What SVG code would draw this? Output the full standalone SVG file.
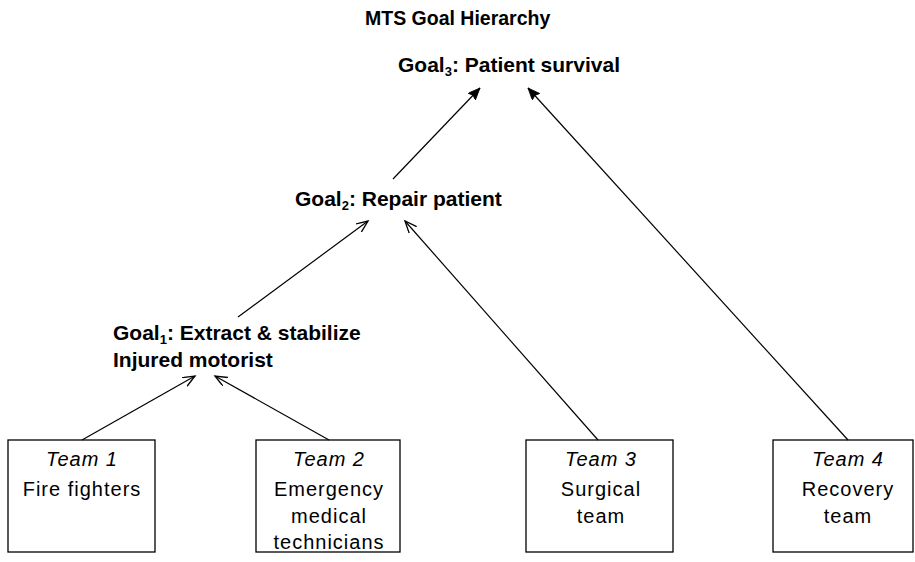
<svg xmlns="http://www.w3.org/2000/svg" width="915" height="562" viewBox="0 0 915 562">
<style>
.bg{fill:#fff}
.box{fill:#fff;stroke:#000;stroke-width:1.3}
.head{font-family:"Liberation Sans",Arial,sans-serif;font-weight:bold;font-size:21px;fill:#000}
.title{font-family:"Liberation Sans",Arial,sans-serif;font-weight:bold;font-size:19.5px;fill:#000}
.sub{font-size:13px}
.team{font-family:"Liberation Sans",Arial,sans-serif;font-size:20px;letter-spacing:1px;fill:#000;text-anchor:middle}
.it{font-style:italic}
.conn line{stroke:#000;stroke-width:1.2;fill:none}
</style>
<defs>
<marker id="open" markerUnits="userSpaceOnUse" markerWidth="16" markerHeight="12" refX="12" refY="5" orient="auto" viewBox="0 0 16 12">
<path d="M0,0 L12,5 L0,10" fill="none" stroke="#000" stroke-width="1.3"/>
</marker>
<marker id="solid" markerUnits="userSpaceOnUse" markerWidth="14" markerHeight="12" refX="12" refY="5" orient="auto" viewBox="0 0 14 12">
<path d="M0,0 L12,5 L0,10 L2,5 Z" fill="#000" stroke="#000" stroke-width="0.8"/>
</marker>
</defs>
<rect class="bg" x="0" y="0" width="915" height="562"/>
<text class="title" x="365" y="25">MTS Goal Hierarchy</text>
<g id="goal3"><text class="head" x="398" y="72">Goal<tspan class="sub" dy="4">3</tspan><tspan dy="-4">: Patient survival</tspan></text></g>
<g id="goal2"><text class="head" x="295" y="206">Goal<tspan class="sub" dy="4">2</tspan><tspan dy="-4">: Repair patient</tspan></text></g>
<g id="goal1"><text class="head" x="113" y="340">Goal<tspan class="sub" dy="4">1</tspan><tspan dy="-4">: Extract &amp; stabilize</tspan></text>
<text class="head" x="113" y="367">Injured motorist</text></g>
<g id="team1"><rect class="box" x="8" y="440" width="147" height="112"/>
<text class="team it" x="82" y="466">Team 1</text>
<text class="team" x="82" y="496">Fire fighters</text></g>
<g id="team2"><rect class="box" x="256" y="440" width="144" height="112"/>
<text class="team it" x="329" y="466">Team 2</text>
<text class="team" x="329" y="496">Emergency</text>
<text class="team" x="329" y="523">medical</text>
<text class="team" x="329" y="549">technicians</text></g>
<g id="team3"><rect class="box" x="526" y="440" width="147" height="112"/>
<text class="team it" x="601" y="466">Team 3</text>
<text class="team" x="601" y="496">Surgical</text>
<text class="team" x="601" y="523">team</text></g>
<g id="team4"><rect class="box" x="773" y="440" width="140" height="112"/>
<text class="team it" x="848" y="466">Team 4</text>
<text class="team" x="848" y="496">Recovery</text>
<text class="team" x="848" y="523">team</text></g>
<g class="conn" id="connectors">
<line x1="82" y1="440" x2="195" y2="376" marker-end="url(#open)"/>
<line x1="329" y1="440" x2="215" y2="376" marker-end="url(#open)"/>
<line x1="238" y1="317" x2="368" y2="221" marker-end="url(#open)"/>
<line x1="598" y1="440" x2="405" y2="221" marker-end="url(#open)"/>
<line x1="393" y1="179" x2="480" y2="88" marker-end="url(#solid)"/>
<line x1="848" y1="440" x2="528" y2="88" marker-end="url(#solid)"/>
</g>
</svg>
